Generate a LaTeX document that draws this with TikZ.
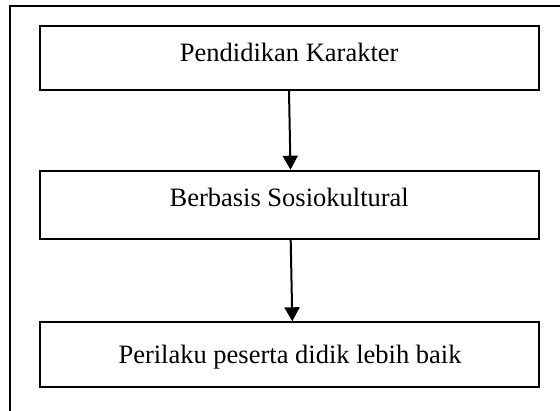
\documentclass[tikz,border=0pt]{standalone}
\usepackage{fontspec}
\setmainfont{Liberation Serif}
\usetikzlibrary{arrows.meta,calc}
\begin{document}
\begin{tikzpicture}[x=1pt,y=-1pt,
  box/.style={draw=black,line width=2pt,minimum width=499.6pt,inner sep=0pt,fill=none},
  txt/.style={anchor=base,inner sep=0pt,font=\fontsize{26.5}{30}\selectfont},
  arr/.style={line width=2pt,-{Triangle[width=15pt,length=14pt]}},
  frame/.style={line width=2pt}]
\useasboundingbox (0,0) rectangle (560,410);
\fill[white] (0,0) rectangle (560,410);
\coordinate (fa) at (9.7,415);
\coordinate (fb) at (9.7,6.3);
\coordinate (fc) at (565,6.3);
\draw[frame] (fa) -- (fb) -- (fc);
\node[box,minimum height=63.7pt] (b1) at (289.5,58.15) {};
\node[box,minimum height=68.3pt] (b2) at (289.5,204.85) {};
\node[box,minimum height=65pt] (b3) at (289.5,354.8) {};
\node[txt] (t1) at (289.2,61.7) {Pendidikan Karakter};
\node[txt] (t2) at (289.2,206) {Berbasis Sosiokultural};
\node[txt] (t3) at (290,363) {Perilaku peserta didik lebih baik};
\draw[arr] ($(b1.south)+(-0.5,0)$) -- ($(b2.north)+(1,0)$);
\draw[arr] ($(b2.south)+(1.2,0)$) -- ($(b3.north)+(2.8,0)$);
\end{tikzpicture}
\end{document}
